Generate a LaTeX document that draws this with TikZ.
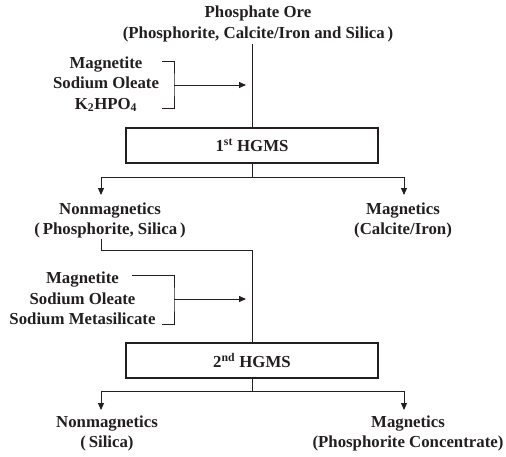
\documentclass[tikz,border=0pt]{standalone}
\usepackage{fontspec}
\setmainfont{Liberation Serif}
\usetikzlibrary{arrows.meta}
\definecolor{ink}{HTML}{231F20}
\begin{document}
\begin{tikzpicture}[x=1pt,y=-1pt,
  lbl/.style={font=\fontsize{16.8}{20.5}\selectfont\bfseries, align=center, inner sep=0pt, text=ink},
  box/.style={draw=ink, line width=1.3pt, minimum width=252pt, minimum height=35pt, inner sep=0pt,
              font=\fontsize{16.8}{20.5}\selectfont\bfseries, text=ink},
  conn/.style={draw=ink, line width=0.9pt},
  arr/.style={conn, -{Triangle[length=7pt,width=6pt]}}]
\useasboundingbox (0,0) rectangle (506,456);

% nodes
\node[lbl] (ore) at (258,24) {Phosphate Ore\\(Phosphorite, Calcite/Iron and Silica\,)};
\node[lbl] (add1) at (106,84) {Magnetite\\Sodium Oleate\\K\textsubscript{2}HPO\textsubscript{4}};
\node[box] (h1) at (252,145.5) {1\textsuperscript{st} HGMS};
\node[lbl] (nm1) at (110,220.5) {Nonmagnetics\\(\,Phosphorite, Silica\,)};
\node[lbl] (m1) at (403,220.5) {Magnetics\\(Calcite/Iron)};
\node[lbl] (add2) at (82.5,298.5) {Magnetite\\Sodium Oleate\\Sodium Metasilicate};
\node[box] (h2) at (252,360.5) {2\textsuperscript{nd} HGMS};
\node[lbl] (nm2) at (107,433.5) {Nonmagnetics\\(\,Silica)};
\node[lbl] (m2) at (408,433.5) {Magnetics\\(Phosphorite Concentrate)};

% coordinates
\coordinate (top1) at (252,44);
\coordinate (b1t) at (162,61);
\coordinate (b1b) at (162,108);
\coordinate (b1m) at (174,85);
\coordinate (a1) at (246,85);
\coordinate (j1) at (252,177);
\coordinate (t1l) at (101,195);
\coordinate (t1r) at (404,195);
\coordinate (n1b) at (101,239);
\coordinate (k2) at (252,250);
\coordinate (b2t) at (132,275);
\coordinate (b2b) at (162,324);
\coordinate (b2m) at (174,299);
\coordinate (a2) at (246,299);
\coordinate (j2) at (252,391);
\coordinate (t2l) at (101,410);
\coordinate (t2r) at (404,410);

% stage 1
\draw[conn] (top1) -- (h1.north);
\draw[conn] (b1t) -| (b1m) |- (b1b);
\draw[arr] (b1m) -- (a1);
\draw[conn] (h1.south) -- (j1);
\draw[arr] (j1) -| (t1l);
\draw[arr] (j1) -| (t1r);

% stage 2
\draw[conn] (n1b) |- (k2) -- (h2.north);
\draw[conn] (b2t) -| (b2m) |- (b2b);
\draw[arr] (b2m) -- (a2);
\draw[conn] (h2.south) -- (j2);
\draw[arr] (j2) -| (t2l);
\draw[arr] (j2) -| (t2r);
\end{tikzpicture}
\end{document}
